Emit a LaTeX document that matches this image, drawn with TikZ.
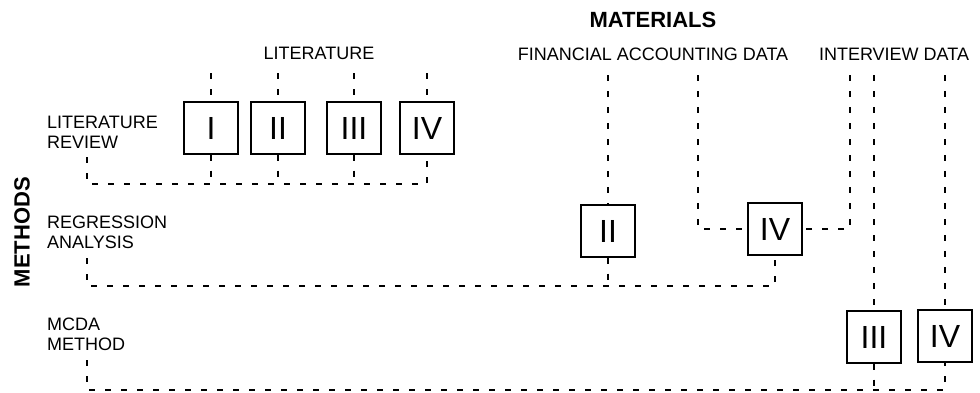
\documentclass[tikz,border=0pt]{standalone}
\usepackage{fontspec}
\setmainfont{Liberation Sans}

\begin{document}
\begin{tikzpicture}[x=1pt, y=-1pt,
  font=\fontsize{18}{20}\selectfont,
  heading/.style={font=\fontsize{22}{24}\selectfont\bfseries, inner sep=0pt},
  column/.style={anchor=base, inner sep=0pt},
  method/.style={anchor=north west, align=left, inner sep=0pt},
  paper/.style={draw, line width=1.3pt, minimum width=54pt, minimum height=52pt,
    inner sep=0pt, font=\fontsize{32}{32}\selectfont},
  link/.style={dash pattern=on 6pt off 10pt, line width=1.2pt}
]
\useasboundingbox (0,0) rectangle (980,392);

% headings
\node[heading, anchor=base] (materials) at (653,27) {MATERIALS};
\node[heading, rotate=90] (methods) at (22,232) {METHODS};

% material columns
\node[column] (literature) at (319,59) {LITERATURE};
\node[column] (financial) at (653,60) {FINANCIAL ACCOUNTING DATA};
\node[column] (interview) at (894,60) {INTERVIEW DATA};

% method rows
\node[method] (litrev) at (47,116) {LITERATURE\\REVIEW};
\node[method] (regression) at (47,216) {REGRESSION\\ANALYSIS};
\node[method] (mcda) at (47,318) {MCDA\\METHOD};

% papers
\node[paper] (litI) at (211,128) {I};
\node[paper] (litII) at (278,128) {II};
\node[paper] (litIII) at (354,128) {III};
\node[paper] (litIV) at (427,128) {IV};
\node[paper] (regII) at (608,231) {II};
\node[paper] (regIV) at (775,229) {IV};
\node[paper] (mcdaIII) at (874,337) {III};
\node[paper] (mcdaIV) at (945,336) {IV};

% line ends
\coordinate (littop) at (0,73);
\coordinate (mattop) at (0,75);
\coordinate (litbus) at (0,184);
\coordinate (regbus) at (0,286);
\coordinate (mcdabus) at (0,390);
\coordinate (fin2) at (698,75);
\coordinate (int1) at (850,75);

% literature review
\foreach \p in {litI,litII,litIII,litIV}
  \draw[link] (\p |- littop) -- (\p.north);
\foreach \p in {litI,litII,litIII}
  \draw[link] (\p.south) -- (\p |- litbus);
\draw[link] (87,157) |- (litIV |- litbus) -- (litIV.south);

% regression analysis
\draw[link] (regII |- mattop) -- (regII.north);
\draw[link] (fin2) |- (regIV.west);
\draw[link] (int1) |- (regIV.east);
\draw[link] (regII.south) -- (regII |- regbus);
\draw[link] (87,258) |- (regIV |- regbus) -- (regIV.south);

% mcda method
\draw[link] (mcdaIII |- mattop) -- (mcdaIII.north);
\draw[link] (mcdaIV |- mattop) -- (mcdaIV.north);
\draw[link] (mcdaIII.south) -- (mcdaIII |- mcdabus);
\draw[link] (87,360) |- (mcdaIV |- mcdabus) -- (mcdaIV.south);
\end{tikzpicture}
\end{document}
